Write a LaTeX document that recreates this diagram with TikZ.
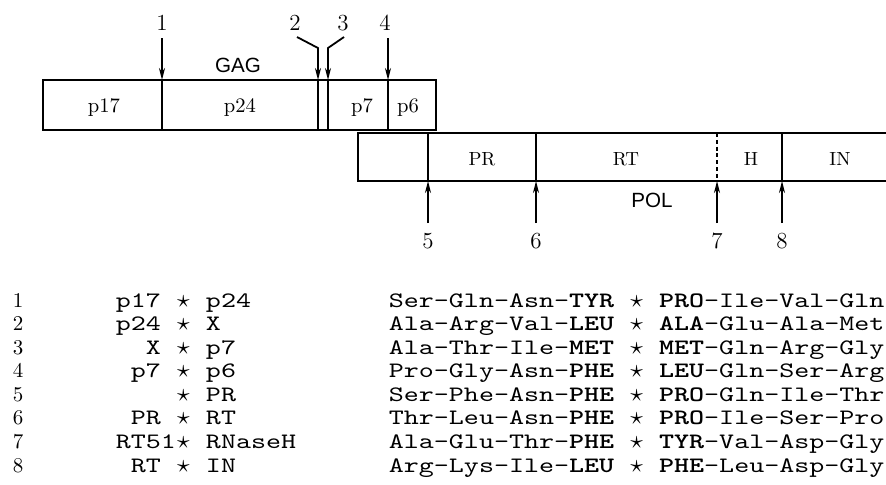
\documentclass[tikz,border=0pt]{standalone}
\usepackage{fontspec}
\usepackage{tikz}
\usetikzlibrary{arrows.meta}
\newfontfamily\seqfont{lmmono10-regular}[Extension=.otf, BoldFont=lmmonolt10-bold, FakeStretch=1.3]
\newfontfamily\helvfont{Liberation Sans}
\newcommand{\cutstar}{\hbox to \fontcharwd\font`x{\hss\scalebox{1.15}{$\star$}\hss}}

\tikzset{
  cutarrow/.style={-{Stealth[length=6pt,width=3pt]}},
  sitenum/.style={font=\fontsize{11.5}{13}\selectfont, anchor=base, inner sep=0pt},
  gaglab/.style={font=\fontsize{10.3}{12}\selectfont, anchor=base, inner sep=0pt},
  pollab/.style={font=\fontsize{9.5}{11}\selectfont, anchor=base, inner sep=0pt},
  barname/.style={font=\helvfont\fontsize{10.3}{12}\selectfont, anchor=base, inner sep=0pt},
  rownum/.style={font=\fontsize{10.5}{12}\selectfont, anchor=base west, inner sep=0pt},
  seqrow/.style={font=\seqfont\fontsize{11}{12}\selectfont, anchor=base west, inner sep=0pt}
}

\begin{document}
\begin{tikzpicture}[x=0.5pt, y=-0.5pt, line width=0.9pt]
  \useasboundingbox (0,0) rectangle (886,484);

  % gag bar
  \draw (43,80) rectangle (436,130);
  \foreach \x in {162,318,328,388} \draw (\x,80) -- (\x,130);
  \node[barname] (gag) at (238,72) {GAG};
  \foreach \x/\lab [count=\k] in {104/p17,240/p24,362/p7,408/p6}
    \node[gaglab] (g\k) at (\x,112) {\lab};

  % pol bar, runs off the right edge
  \draw (886,133) -- (358,133) -- (358,181) -- (886,181);
  \foreach \x in {428,536,782} \draw (\x,133) -- (\x,181);
  \draw[dash pattern=on 2pt off 1.4pt] (717,133) -- (717,181);
  \node[barname] (pol) at (652,207) {POL};
  \foreach \x/\lab [count=\k] in {482/PR,626/RT,751/H,840/IN}
    \node[pollab] (d\k) at (\x,165) {\lab};

  % cleavage sites in gag
  \coordinate (t1) at (162,38);  \coordinate (s1) at (162,80);
  \coordinate (t2) at (297,37);  \coordinate (b2) at (318,48);  \coordinate (s2) at (318,80);
  \coordinate (t3) at (344,37);  \coordinate (b3) at (328,48);  \coordinate (s3) at (328,80);
  \coordinate (t4) at (388,38);  \coordinate (s4) at (388,80);
  \draw[cutarrow] (t1) -- (s1);
  \draw[cutarrow] (t2) -- (b2) -- (s2);
  \draw[cutarrow] (t3) -- (b3) -- (s3);
  \draw[cutarrow] (t4) -- (s4);
  \foreach \x/\n in {162/1,295/2,343/3,385/4}
    \node[sitenum] (n\n) at (\x,30) {\n};

  % cleavage sites in pol
  \foreach \x/\n in {428/5,536/6,717/7,782/8} {
    \coordinate (s\n) at (\x,181);
    \coordinate (t\n) at (\x,223);
    \draw[cutarrow] (t\n) -- (s\n);
    \node[sitenum] (n\n) at (\x,248) {\n};
  }

  % table of cleavage sites
  \foreach \n/\pr/\sq in {
    1/{p17 \cutstar{} p24}/{Ser-Gln-Asn-\textbf{TYR} \cutstar{} \textbf{PRO}-Ile-Val-Gln},
    2/{p24 \cutstar{} X}/{Ala-Arg-Val-\textbf{LEU} \cutstar{} \textbf{ALA}-Glu-Ala-Met},
    3/{~~X \cutstar{} p7}/{Ala-Thr-Ile-\textbf{MET} \cutstar{} \textbf{MET}-Gln-Arg-Gly},
    4/{~p7 \cutstar{} p6}/{Pro-Gly-Asn-\textbf{PHE} \cutstar{} \textbf{LEU}-Gln-Ser-Arg},
    5/{~~~~\cutstar{} PR}/{Ser-Phe-Asn-\textbf{PHE} \cutstar{} \textbf{PRO}-Gln-Ile-Thr},
    6/{~PR \cutstar{} RT}/{Thr-Leu-Asn-\textbf{PHE} \cutstar{} \textbf{PRO}-Ile-Ser-Pro},
    7/{RT51\cutstar{} RNaseH}/{Ala-Glu-Thr-\textbf{PHE} \cutstar{} \textbf{TYR}-Val-Asp-Gly},
    8/{~RT \cutstar{} IN}/{Arg-Lys-Ile-\textbf{LEU} \cutstar{} \textbf{PHE}-Leu-Asp-Gly}} {
    \node[rownum] (r\n) at (12,{307+(\n-1)*23.57}) {\n};
    \node[seqrow] (p\n) at (115,{307+(\n-1)*23.57}) {\pr};
    \node[seqrow] (q\n) at (388,{307+(\n-1)*23.57}) {\sq};
  }
\end{tikzpicture}
\end{document}
